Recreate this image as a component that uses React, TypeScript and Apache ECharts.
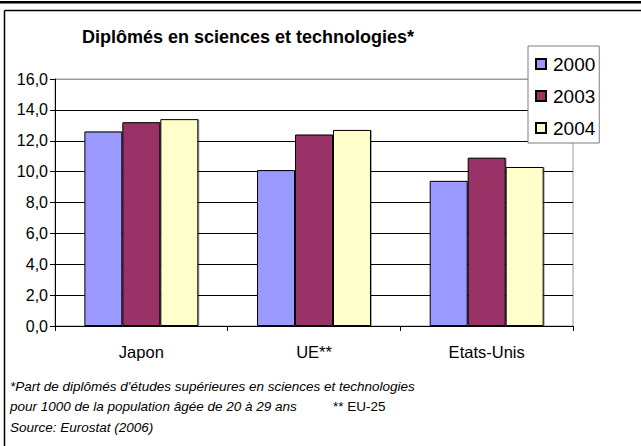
import React, { useEffect, useRef } from "react";
import * as echarts from "echarts";

const categories = ["Japon", "UE**", "Etats-Unis"];
const seriesNames = ["2000", "2003", "2004"];
const values2000 = [12.6, 10.1, 9.4];
const values2003 = [13.2, 12.4, 10.9];
const values2004 = [13.4, 12.7, 10.3];
const seriesColors = ["#9999FF", "#993366", "#FFFFCC"];
const titleText = "Diplômés en sciences et technologies*";
const footLines = [
  "*Part de diplômés d'études supérieures en sciences et technologies",
  "pour 1000 de la population âgée de 20 à 29 ans",
  "Source: Eurostat (2006)",
];
const footNote2 = "** EU-25";

const FONT = "Liberation Sans, Arial, sans-serif";

export default function App() {
  const ref = useRef<HTMLDivElement>(null);
  useEffect(() => {
    if (!ref.current) return;
    const chart = echarts.init(ref.current, null, { renderer: "svg" });
    const data = [values2000, values2003, values2004];
    const splitColors = Array.from({ length: 9 }, (_, i) => (i === 8 ? "#9a9a9a" : "#000000"));
    chart.setOption({
      animation: false,
      backgroundColor: "#ffffff",
      textStyle: { fontFamily: FONT },
      title: {
        text: titleText,
        left: 82,
        top: 28,
        padding: 0,
        textStyle: { fontFamily: FONT, fontSize: 18, fontWeight: "bold", color: "#000" },
      },
      legend: {
        orient: "vertical",
        left: 528,
        top: 46,
        width: 72,
        padding: [8, 4, 5, 7],
        itemGap: 12,
        itemWidth: 10,
        itemHeight: 10,
        icon: "rect",
        borderColor: "#7f7f7f",
        borderWidth: 1,
        backgroundColor: "#fff",
        data: seriesNames,
        textStyle: { fontFamily: FONT, fontSize: 19, color: "#000", lineHeight: 20, padding: [0, 0, 0, 2] },
      },
      grid: {
        left: 55,
        right: 68,
        top: 79,
        bottom: 120,
        show: true,
        borderColor: "#9a9a9a",
        borderWidth: 1,
        backgroundColor: "transparent",
      },
      xAxis: {
        type: "category",
        data: categories,
        axisLine: { lineStyle: { color: "#000", width: 1 } },
        axisTick: { show: true, length: 5, lineStyle: { color: "#000" } },
        axisLabel: { fontFamily: FONT, fontSize: 16.5, color: "#000", margin: 17 },
      },
      yAxis: {
        type: "value",
        min: 0,
        max: 16,
        interval: 2,
        axisLine: { show: true, lineStyle: { color: "#000", width: 1 } },
        axisTick: { show: true, length: 5, lineStyle: { color: "#000" } },
        axisLabel: {
          fontFamily: FONT,
          fontSize: 16,
          color: "#000",
          margin: 7,
          formatter: (v: number) => v.toFixed(1).replace(".", ","),
        },
        splitLine: { show: true, lineStyle: { color: splitColors, width: 1 } },
      },
      series: seriesNames.map((name, i) => ({
        name,
        type: "bar",
        data: data[i],
        barGap: "0%",
        barCategoryGap: "34%",
        itemStyle: {
          color: seriesColors[i],
          borderColor: "#000",
          borderWidth: 1,
          shadowColor: "rgba(0,0,0,0.35)",
          shadowOffsetX: 1,
          shadowOffsetY: 0,
          shadowBlur: 0,
        },
      })),
      graphic: [
        {
          type: "rect",
          left: 0,
          top: 1,
          shape: { x: 0, y: 0, width: 641, height: 2.5 },
          style: { fill: "#000" },
          silent: true,
        },
        {
          type: "line",
          shape: { x1: 4.5, y1: 10.5, x2: 641, y2: 10.5 },
          style: { stroke: "#000", lineWidth: 1.5 },
          silent: true,
        },
        {
          type: "line",
          shape: { x1: 4.5, y1: 10.5, x2: 4.5, y2: 446 },
          style: { stroke: "#000", lineWidth: 1.5 },
          silent: true,
        },
        {
          type: "text",
          left: 10,
          top: 376,
          style: {
            text: footLines.join("\n"),
            font: `italic 13.5px ${FONT}`,
            lineHeight: 20.5,
            fill: "#000",
          },
          silent: true,
        },
        {
          type: "text",
          left: 333,
          top: 396.5,
          style: {
            text: footNote2,
            font: `13.5px ${FONT}`,
            lineHeight: 20.5,
            fill: "#000",
          },
          silent: true,
        },
      ],
    });
    return () => chart.dispose();
  }, []);
  return (
    <div
      ref={ref}
      style={{ position: "fixed", left: 0, top: 0, width: 641, height: 446, background: "#fff" }}
    />
  );
}
